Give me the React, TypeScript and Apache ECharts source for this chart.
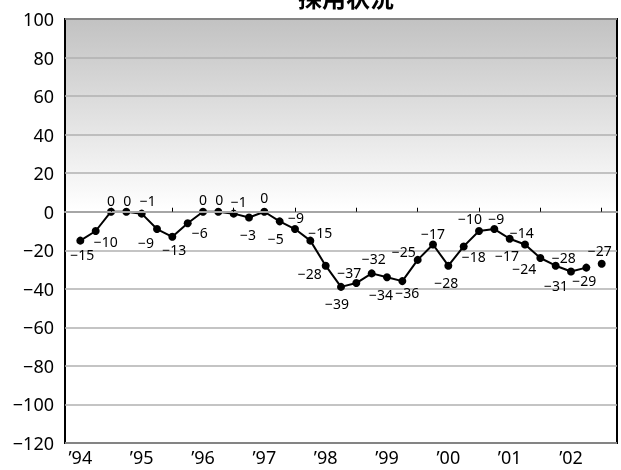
import React, { useEffect, useRef } from "react";
import * as echarts from "echarts";

const titleText = "採用状況";
const yearLabels = ["’94", "’95", "’96", "’97", "’98", "’99", "’00", "’01", "’02"];
// quarterly values (solid line)
const mainValues = [
  -15, -10, 0, 0, -1, -9, -13, -6, 0, 0, -1, -3, 0, -5, -9, -15, -28, -39, -37,
  -32, -34, -36, -25, -17, -28, -18, -10, -9, -14, -17, -24, -28, -31, -29,
];
// separate last point (forecast)
const forecastValues = [-27];
const yTicks = { min: -120, max: 100, interval: 20 };

// label placement (dx, dy from point centre) — styling only
const labelOffsets: [number, number][] = [
  [2, 14], [10, 10], [0, -11], [1, -11], [6, -13], [-11, 13], [2, 13], [12, 9],
  [0, -12], [1, -12], [5, -12], [-1, 17], [0, -14], [-4, 17], [1, -12], [10, -8],
  [-16, 8], [-4, 17], [-7, -11], [2, -15], [-6, 17], [5, 11], [-14, -8], [0, -11],
  [-2, 17], [10, 10], [-9, -13], [2, -11], [12, -6], [-18, 11], [-16, 11], [8, -8],
  [-15, 14], [-2, 13],
];
const forecastOffsets: [number, number][] = [[-2, -13]];

const FONT = "Noto Sans, DejaVu Sans, sans-serif";
const minus = (v: any) => String(v).replace("-", "\u2212");

export default function App() {
  const ref = useRef<HTMLDivElement>(null);
  useEffect(() => {
    if (!ref.current) return;
    const chart = echarts.init(ref.current, null, { renderer: "svg" });
    const total = mainValues.length + forecastValues.length + 2;
    const categories: string[] = [];
    for (let i = 0; i < total; i++) {
      categories.push(i % 4 === 1 ? yearLabels[(i - 1) / 4] ?? "" : "");
    }
    const mainData: any[] = categories.map(() => null);
    mainValues.forEach((v, k) => {
      mainData[k + 1] = { value: v, label: { offset: labelOffsets[k] } };
    });
    const fcData: any[] = categories.map(() => null);
    forecastValues.forEach((v, k) => {
      fcData[mainValues.length + 1 + k] = {
        value: v,
        label: { offset: forecastOffsets[k] },
      };
    });
    const labelCfg = {
      show: true,
      position: "inside",
      fontSize: 14,
      fontFamily: FONT,
      color: "#000",
      formatter: (p: any) => minus(p.value),
    };
    chart.setOption({
      animation: false,
      title: {
        text: titleText,
        left: 293,
        top: -21,
        textStyle: {
          fontSize: 24,
          fontWeight: "bold",
          color: "#000",
          fontFamily: "Noto Sans CJK JP",
        },
      },
      grid: {
        left: 65,
        right: 4,
        top: 19,
        bottom: 27,
        show: true,
        borderColor: "#000",
        borderWidth: 2,
        backgroundColor: new echarts.graphic.LinearGradient(0, 0, 0, 1, [
          { offset: 0, color: "#c2c2c2" },
          { offset: 0.45, color: "#ffffff" },
          { offset: 1, color: "#ffffff" },
        ]),
      },
      xAxis: {
        type: "category",
        data: categories,
        boundaryGap: false,
        z: 5,
        axisLine: { lineStyle: { color: "#a6a6a6", width: 2 } },
        axisTick: {
          inside: true,
          length: 4,
          interval: (i: number) => i % 4 === 3,
          lineStyle: { color: "#000" },
        },
        axisLabel: {
          interval: 0,
          fontSize: 18,
          fontFamily: FONT,
          color: "#000",
          margin: 5,
        },
        splitLine: { show: false },
      },
      yAxis: {
        type: "value",
        min: yTicks.min,
        max: yTicks.max,
        interval: yTicks.interval,
        axisLine: { show: false },
        axisTick: { show: false },
        axisLabel: {
          fontSize: 18,
          fontFamily: FONT,
          color: "#000",
          margin: 11,
          formatter: (v: number) => minus(v),
        },
        splitLine: { lineStyle: { color: "#b0b0b0", width: 1.5 } },
      },
      series: [
        {
          type: "line",
          data: mainData,
          symbol: "circle",
          symbolSize: 8,
          lineStyle: { color: "#000", width: 2 },
          itemStyle: { color: "#000" },
          label: labelCfg,
          connectNulls: false,
        },
        {
          type: "line",
          data: fcData,
          symbol: "circle",
          symbolSize: 8,
          lineStyle: { color: "#000", width: 2 },
          itemStyle: { color: "#000" },
          label: labelCfg,
        },
      ],
    });
    return () => chart.dispose();
  }, []);
  return (
    <div
      ref={ref}
      style={{ position: "fixed", left: 0, top: 0, width: 621, height: 470 }}
    />
  );
}
